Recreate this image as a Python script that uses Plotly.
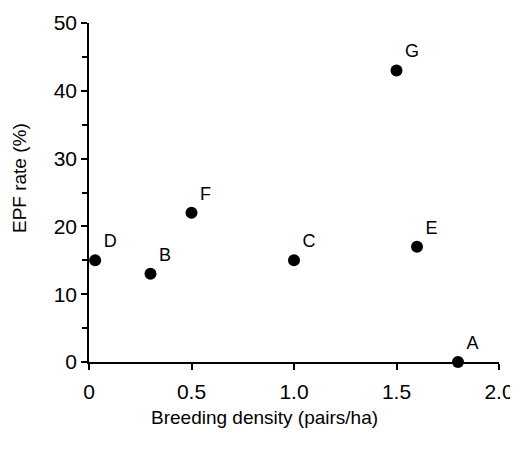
import plotly.graph_objects as go

labels = ["A", "B", "C", "D", "E", "F", "G"]
density = [1.8, 0.3, 1.0, 0.03, 1.6, 0.5, 1.5]
epf_rate = [0, 13, 15, 15, 17, 22, 43]

x_tickvals = [0, 0.5, 1.0, 1.5, 2.0]
x_ticktext = ["0", "0.5", "1.0", "1.5", "2.0"]
y_tickvals = [0, 10, 20, 30, 40, 50]
y_ticktext = ["0", "10", "20", "30", "40", "50"]

font = "Liberation Sans, Arial, sans-serif"

fig = go.Figure()
fig.add_trace(go.Scatter(
    x=density, y=epf_rate, mode="markers+text",
    text=labels, textposition="top right",
    textfont=dict(family=font, size=18, color="black"),
    marker=dict(color="black", size=12),
    cliponaxis=False, showlegend=False,
))

fig.update_layout(
    template="none",
    width=510, height=445,
    margin=dict(l=81, r=19, t=15, b=91, autoexpand=False),
    paper_bgcolor="white", plot_bgcolor="white",
    font=dict(family=font, color="black"),
    xaxis=dict(
        range=[0, 2.0], tickvals=x_tickvals, ticktext=x_ticktext,
        ticks="outside", ticklen=6, tickwidth=1.5, tickcolor="black",
        showline=True, linecolor="black", linewidth=1.5,
        showgrid=False, zeroline=False, automargin=False,
        tickfont=dict(size=21), ticklabelstandoff=4,
    ),
    yaxis=dict(
        range=[0, 50], tickvals=y_tickvals, ticktext=y_ticktext,
        ticks="outside", ticklen=6, tickwidth=1.5, tickcolor="black",
        minor=dict(dtick=5, ticks="outside", ticklen=5, tickwidth=1.5, tickcolor="black", showgrid=False),
        showline=True, linecolor="black", linewidth=1.5,
        showgrid=False, zeroline=False, automargin=False,
        tickfont=dict(size=21),
    ),
    annotations=[
        dict(text="Breeding density (pairs/ha)", xref="paper", yref="paper",
             x=0.427, y=-0.165, xanchor="center", yanchor="middle",
             showarrow=False, font=dict(size=19)),
        dict(text="EPF rate (%)", xref="paper", yref="paper",
             x=-0.168, y=0.543, xanchor="center", yanchor="middle",
             textangle=-90, showarrow=False, font=dict(size=19)),
    ],
)

fig.write_html("out.html")
